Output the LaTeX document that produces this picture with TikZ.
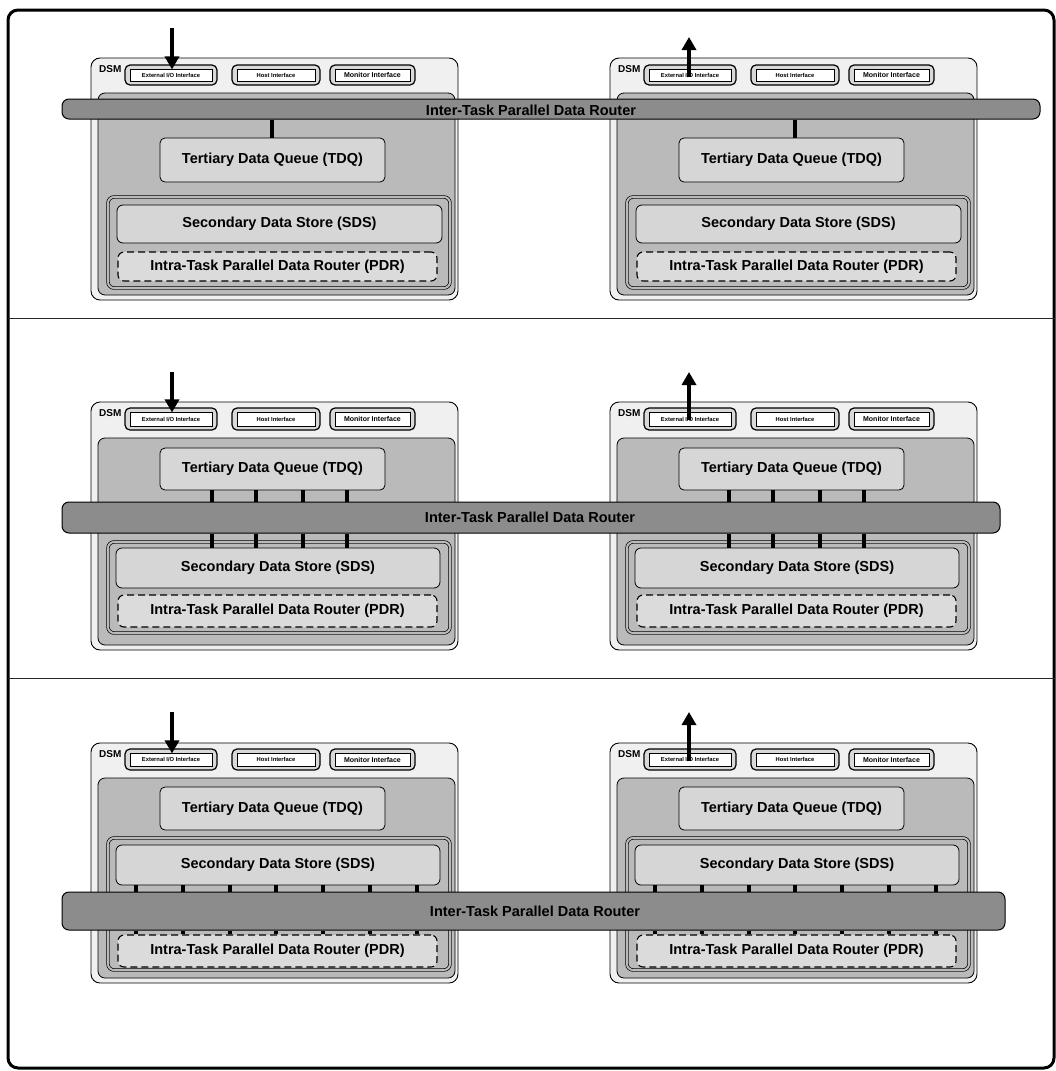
\documentclass[tikz,border=0pt]{standalone}
\usepackage{fontspec}
\setmainfont{Liberation Sans}
\usetikzlibrary{arrows.meta}

\tikzset{
  frame/.style={draw=black, line width=3pt, rounded corners=10pt},
  divider/.style={draw=black!85, line width=0.9pt},
  dsmbox/.style={draw=black, line width=0.9pt, fill=black!6, rounded corners=9pt},
  corebox/.style={draw=black, line width=0.8pt, fill=black!27, rounded corners=7pt},
  tdqbox/.style={draw=black, line width=0.8pt, fill=black!16, rounded corners=5pt},
  storebox/.style={draw=black, line width=0.7pt, double=black!27, double distance=2pt, fill=black!27, rounded corners=6pt},
  sdsbox/.style={draw=black, line width=0.8pt, fill=black!16, rounded corners=6pt},
  pdrbox/.style={draw=black, line width=1.1pt, dash pattern=on 7pt off 4pt, fill=black!14, rounded corners=6pt},
  ifout/.style={draw=black, line width=1.2pt, fill=black!15, rounded corners=5pt},
  ifin/.style={draw=black, line width=0.8pt, fill=white},
  routerbar/.style={draw=black, line width=1pt, fill=black!45, rounded corners=7pt},
  link/.style={draw=black, line width=4pt},
  ioarrow/.style={draw=black, line width=3.5pt, -{Triangle[length=13pt, width=14pt]}},
  lbl/.style={font=\bfseries\fontsize{14.5}{16}\selectfont, text=black},
  tinylbl/.style={font=\bfseries\fontsize{5.8}{6}\selectfont, text=black},
  monlbl/.style={font=\bfseries\fontsize{7}{7}\selectfont, text=black},
  dsmlbl/.style={font=\bfseries\fontsize{10}{10}\selectfont, text=black, anchor=north west, inner sep=0pt},
}

% box node given by its two corners: style, name, x1, y1, x2, y2, text
\newcommand\cornerbox[7]{%
  \node[#1, inner sep=0pt, minimum width={(#5)-(#3)}, minimum height={(#6)-(#4)}]
    (#2) at ({((#3)+(#5))/2},{((#4)+(#6))/2}) {#7};}

% interface row of a DSM: panel id, column id, top y, bottom y
\newcommand\ifrow[4]{%
  \cornerbox{ifout}{ext#1#2}{125}{#3}{217}{#4}{}
  \cornerbox{ifin}{exti#1#2}{130}{(#3)+4}{212}{(#4)-4}{\tikz[baseline]\node[tinylbl,inner sep=0pt]{External I/O Interface};}
  \cornerbox{ifout}{host#1#2}{232}{#3}{320}{#4}{}
  \cornerbox{ifin}{hosti#1#2}{237}{(#3)+4}{315}{(#4)-4}{\tikz[baseline]\node[tinylbl,inner sep=0pt]{Host Interface};}
  \cornerbox{ifout}{mon#1#2}{330}{#3}{415}{#4}{}
  \cornerbox{ifin}{moni#1#2}{335}{(#3)+4}{410}{(#4)-4}{\tikz[baseline]\node[monlbl,inner sep=0pt]{Monitor Interface};}
}

\begin{document}
\begin{tikzpicture}[x=1pt, y=-1pt]
\useasboundingbox (0,0) rectangle (1055,1071);

% outer frame and panel dividers
\draw[frame] (8,10) rectangle (1054,1068);
\coordinate (d1a) at (8,318);   \coordinate (d1b) at (1055,318);
\coordinate (d2a) at (8,678);   \coordinate (d2b) at (1055,678);
\draw[divider] (d1a) -- (d1b);
\draw[divider] (d2a) -- (d2b);

% ---------------- panel 1: router above the TDQ ----------------
\foreach \c/\dx in {L/0, R/519}{
  \begin{scope}[xshift=\dx]
    \cornerbox{dsmbox}{dsm1\c}{91}{58}{458}{300}{}
    \node[dsmlbl] (dl1\c) at (99,65) {DSM};
    \ifrow{1}{\c}{65}{85}
    \cornerbox{corebox}{core1\c}{98}{93}{455}{295}{}
    \cornerbox{tdqbox,lbl}{tdq1\c}{160}{138}{385}{182}{Tertiary Data Queue (TDQ)}
    \cornerbox{storebox}{st1\c}{108}{197}{450}{288}{}
    \cornerbox{sdsbox,lbl}{sds1\c}{117}{205}{442}{243}{Secondary Data Store (SDS)}
    \cornerbox{pdrbox,lbl}{pdr1\c}{118}{252}{437}{281}{Intra-Task Parallel Data Router (PDR)}
  \end{scope}
}
\cornerbox{routerbar}{bar1}{62}{99}{1040}{119}{}
\node[lbl] (rl1) at (531,110) {Inter-Task Parallel Data Router};
\draw[link] (bar1.south -| 272,0) -- (tdq1L.north -| 272,0);
\draw[link] (bar1.south -| 795,0) -- (tdq1R.north -| 795,0);
\coordinate (in1) at (172,28);
\coordinate (out1) at (689,37);
\draw[ioarrow] (in1) -- ([yshift=-5pt]ext1L.north -| in1);
\draw[ioarrow] ([yshift=-13pt]ext1R.north -| out1) -- (out1);

% ---------------- panel 2: router between TDQ and SDS ----------------
\foreach \c/\dx in {L/0, R/519}{
  \begin{scope}[xshift=\dx]
    \cornerbox{dsmbox}{dsm2\c}{91}{402}{458}{650}{}
    \node[dsmlbl] (dl2\c) at (99,409) {DSM};
    \ifrow{2}{\c}{408}{430}
    \cornerbox{corebox}{core2\c}{98}{438}{455}{645}{}
    \cornerbox{tdqbox,lbl}{tdq2\c}{160}{448}{385}{490}{Tertiary Data Queue (TDQ)}
    \cornerbox{storebox}{st2\c}{108}{542}{450}{633}{}
    \cornerbox{sdsbox,lbl}{sds2\c}{116}{548}{440}{588}{Secondary Data Store (SDS)}
    \cornerbox{pdrbox,lbl}{pdr2\c}{118}{595}{437}{627}{Intra-Task Parallel Data Router (PDR)}
  \end{scope}
}
\cornerbox{routerbar}{bar2}{62}{502}{1000}{533}{}
\node[lbl] (rl2) at (530,517) {Inter-Task Parallel Data Router};
\foreach \c/\dx in {L/0, R/517}{
  \begin{scope}[xshift=\dx]
    \foreach \lx in {212,256,303,347}{
      \draw[link] (tdq2\c.south -| \lx,0) -- (bar2.north -| \lx,0);
      \draw[link] (bar2.south -| \lx,0) -- (sds2\c.north -| \lx,0);
    }
  \end{scope}
}
\coordinate (in2) at (172,372);
\coordinate (out2) at (689,372);
\draw[ioarrow] (in2) -- ([yshift=-5pt]ext2L.north -| in2);
\draw[ioarrow] ([yshift=-13pt]ext2R.north -| out2) -- (out2);

% ---------------- panel 3: router between SDS and PDR ----------------
\foreach \c/\dx in {L/0, R/519}{
  \begin{scope}[xshift=\dx]
    \cornerbox{dsmbox}{dsm3\c}{91}{743}{458}{983}{}
    \node[dsmlbl] (dl3\c) at (99,750) {DSM};
    \ifrow{3}{\c}{749}{770}
    \cornerbox{corebox}{core3\c}{98}{778}{455}{978}{}
    \cornerbox{tdqbox,lbl}{tdq3\c}{160}{787}{385}{830}{Tertiary Data Queue (TDQ)}
    \cornerbox{storebox}{st3\c}{108}{838}{450}{970}{}
    \cornerbox{sdsbox,lbl}{sds3\c}{116}{845}{440}{885}{Secondary Data Store (SDS)}
    \cornerbox{pdrbox,lbl}{pdr3\c}{118}{935}{437}{967}{Intra-Task Parallel Data Router (PDR)}
  \end{scope}
}
\cornerbox{routerbar}{bar3}{62}{892}{1005}{930}{}
\node[lbl] (rl3) at (535,911) {Inter-Task Parallel Data Router};
\foreach \c/\dx in {L/0, R/519}{
  \begin{scope}[xshift=\dx]
    \foreach \lx in {136,183,230,276,323,370,417}{
      \draw[link] (sds3\c.south -| \lx,0) -- (bar3.north -| \lx,0);
      \draw[link] (bar3.south -| \lx,0) -- (pdr3\c.north -| \lx,0);
    }
  \end{scope}
}
\coordinate (in3) at (172,712);
\coordinate (out3) at (689,712);
\draw[ioarrow] (in3) -- ([yshift=-5pt]ext3L.north -| in3);
\draw[ioarrow] ([yshift=-13pt]ext3R.north -| out3) -- (out3);

\end{tikzpicture}
\end{document}
